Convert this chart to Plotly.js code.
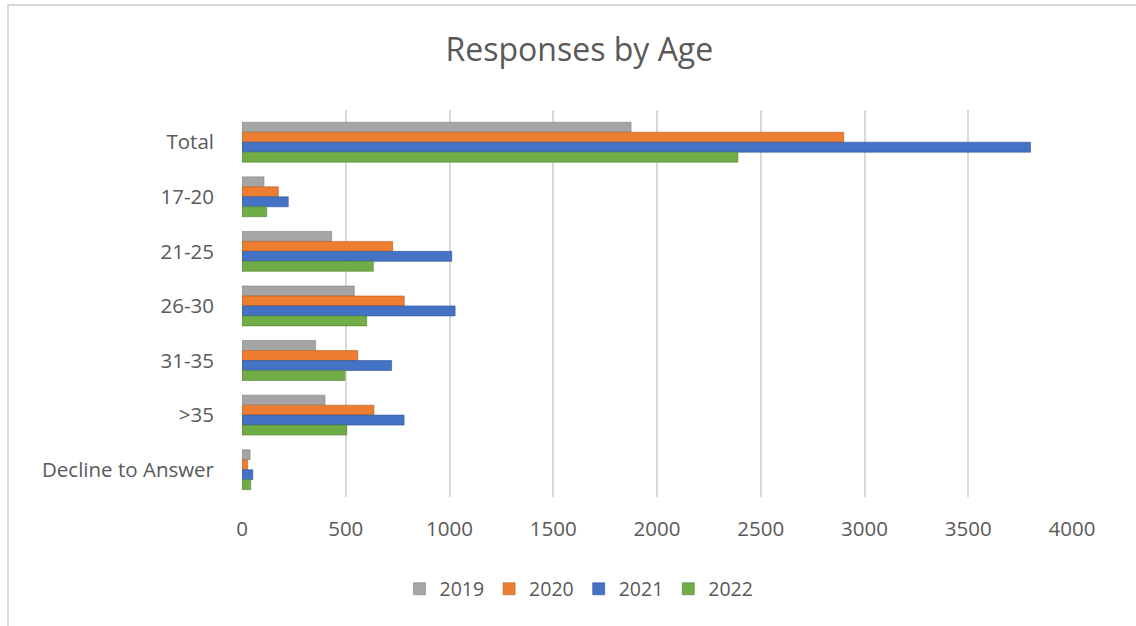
<!DOCTYPE html>
<html>
<head>
<meta charset="utf-8">
<script src="https://cdn.plot.ly/plotly-3.0.1.min.js"></script>
<style>
  html, body { margin: 0; padding: 0; background: #fff; }
  #wrap { position: relative; width: 1136px; height: 626px; overflow: hidden; }
  #frame { position: absolute; left: 7px; top: 4px; width: 1140px; height: 640px;
           border-top: 2px solid #D9D9D9; border-left: 2px solid #D9D9D9; pointer-events: none; }
  #chart { position: absolute; left: 0; top: 0; width: 1136px; height: 626px; }
</style>
</head>
<body>
<div id="wrap">
  <div id="chart"></div>
  <div id="frame"></div>
</div>
<script>
const categories = ["Total", "17-20", "21-25", "26-30", "31-35", ">35", "Decline to Answer"];
const seriesNames = ["2019", "2020", "2021", "2022"];
const values2019 = [1875, 106, 432, 541, 355, 400, 39];
const values2020 = [2900, 175, 726, 782, 558, 636, 27];
const values2021 = [3800, 223, 1011, 1027, 721, 781, 52];
const values2022 = [2390, 119, 633, 601, 496, 505, 42];
const xTickValues = [0, 500, 1000, 1500, 2000, 2500, 3000, 3500, 4000];

const colors = ["#A5A5A5", "#ED7D31", "#4472C4", "#70AD47"];
const edgeColors = ["#7F7F7F", "#B65F24", "#2F5597", "#548235"];
const allValues = [values2019, values2020, values2021, values2022];

const traces = allValues.map((vals, i) => ({
  type: "bar",
  orientation: "h",
  name: seriesNames[i],
  y: categories,
  x: vals,
  marker: { color: colors[i], line: { color: edgeColors[i], width: 0.6 } },
  hoverinfo: "x+name"
}));

const textColor = "#595959";
const fontFamily = "Open Sans, Liberation Sans, sans-serif";

const layout = {
  width: 1136,
  height: 626,
  paper_bgcolor: "rgba(0,0,0,0)",
  plot_bgcolor: "rgba(0,0,0,0)",
  margin: { l: 242, r: 64, t: 110, b: 129 },
  barmode: "group",
  bargap: 0.27,
  bargroupgap: 0,
  font: { family: fontFamily, color: textColor, size: 20.5 },
  title: {
    text: "Responses by Age",
    font: { family: fontFamily, size: 32, color: textColor },
    x: 0.51, xref: "container", xanchor: "center",
    y: 0.92, yref: "container", yanchor: "middle"
  },
  xaxis: {
    range: [0, 4000],
    tickvals: xTickValues,
    ticktext: xTickValues.map(String),
    showgrid: true,
    gridcolor: "#D9D9D9",
    gridwidth: 2,
    zeroline: false,
    showline: false,
    ticks: "",
    ticklabelstandoff: 17,
    tickfont: { size: 20.5, color: textColor }
  },
  yaxis: {
    type: "category",
    categoryorder: "array",
    categoryarray: categories,
    range: [6.5, -0.59],
    showgrid: false,
    zeroline: false,
    showline: false,
    ticks: "",
    ticklabelstandoff: 27,
    tickfont: { size: 20.5, color: textColor }
  },
  legend: {
    orientation: "h",
    x: 0.406, xanchor: "center",
    y: -0.238, yanchor: "middle",
    font: { size: 19.5, color: textColor },
    traceorder: "normal",
    itemwidth: 30
  },
  showlegend: true
};

Plotly.newPlot("chart", traces, layout, { displayModeBar: false, staticPlot: true });
</script>
</body>
</html>
